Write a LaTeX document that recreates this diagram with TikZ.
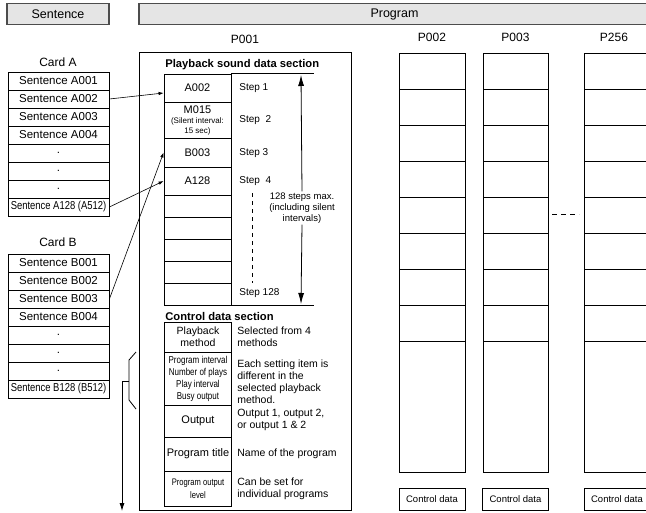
\documentclass[tikz,border=0pt]{standalone}
\usepackage{fontspec}
\usepackage{graphicx}
\setmainfont{Liberation Sans}
\usetikzlibrary{arrows.meta}
\newcommand{\narrow}[1]{\scalebox{0.8}[1]{#1}}
\tikzset{
  hdr/.style={draw=black!70, line width=1.4pt, fill=black!10, minimum height=21pt, inner sep=0pt, font=\fontsize{12.5}{14}\selectfont},
  lbl/.style={font=\fontsize{12}{14}\selectfont},
  cell/.style={draw, minimum width=101pt, minimum height=18pt, inner sep=0pt, font=\fontsize{11.5}{13}\selectfont},
  slot/.style={draw, minimum width=67pt, inner sep=0pt, align=center},
  steplbl/.style={anchor=west, inner sep=0pt, font=\fontsize{10}{12}\selectfont},
  note/.style={anchor=west, inner sep=0pt, align=left, font=\fontsize{10.5}{12}\selectfont},
  ctlbox/.style={draw, minimum width=66pt, minimum height=22pt, inner sep=0pt, font=\fontsize{9.5}{11}\selectfont},
  ptr/.style={-{Latex[length=5pt,width=3.5pt]}, line width=0.6pt},
  bigtip/.style={-{Latex[length=11pt,width=6pt]}},
}
\begin{document}
\begin{tikzpicture}[x=1pt, y=-1pt, line width=0.8pt, font=\fontsize{11}{13}\selectfont]
    \useasboundingbox (0,0) rectangle (646,512);

    % headers
    \node[hdr, minimum width=102pt] (senthdr) at (58,14) {Sentence};
    \node[hdr, minimum width=511pt] (proghdr) at (394.5,14) {Program};

    % card A
    \node[lbl] (cardA) at (58,62) {Card A};
    \node[cell] (a1) at (58.5,81) {Sentence A001};
    \node[cell] (a2) at (58.5,99) {Sentence A002};
    \node[cell] (a3) at (58.5,117) {Sentence A003};
    \node[cell] (a4) at (58.5,135) {Sentence A004};
    \node[cell] (a5) at (58.5,153) {.};
    \node[cell] (a6) at (58.5,171) {.};
    \node[cell] (a7) at (58.5,189) {.};
    \node[cell] (a8) at (58.5,207) {\scalebox{0.82}[1]{Sentence A128 (A512)}};

    % card B
    \node[lbl] (cardB) at (58,242) {Card B};
    \node[cell] (b1) at (58.5,263) {Sentence B001};
    \node[cell] (b2) at (58.5,281) {Sentence B002};
    \node[cell] (b3) at (58.5,299) {Sentence B003};
    \node[cell] (b4) at (58.5,317) {Sentence B004};
    \node[cell] (b5) at (58.5,335) {.};
    \node[cell] (b6) at (58.5,353) {.};
    \node[cell] (b7) at (58.5,371) {.};
    \node[cell] (b8) at (58.5,389) {\scalebox{0.82}[1]{Sentence B128 (B512)}};

    % program P001
    \node[lbl] (p1) at (245,39) {P001};
    \draw (139,52) rectangle (351,510);
    \node[anchor=west, inner sep=0pt, font=\fontsize{11.2}{13}\selectfont\bfseries] (sndhead) at (165,65) {Playback sound data section};

    \node[slot, minimum height=28pt] (s1) at (197.5,88) {A002};
    \node[slot, minimum height=36pt] (s2) at (197.5,120) {M015\\[-3pt]{\fontsize{8}{9}\selectfont(Silent interval:}\\[-3pt]{\fontsize{8}{9}\selectfont 15 sec)}};
    \node[slot, minimum height=29pt] (s3) at (197.5,152.5) {B003};
    \node[slot, minimum height=28pt] (s4) at (197.5,181) {A128};
    \node[slot, minimum height=22pt] (e1) at (197.5,206) {};
    \node[slot, minimum height=22pt] (e2) at (197.5,228) {};
    \node[slot, minimum height=22pt] (e3) at (197.5,250) {};
    \node[slot, minimum height=22pt] (e4) at (197.5,272) {};
    \node[slot, minimum height=22pt] (e5) at (197.5,294) {};

    \node[steplbl] (st1) at (239,88) {Step 1};
    \node[steplbl] (st2) at (239,120) {Step\ \ 2};
    \node[steplbl] (st3) at (239,153) {Step 3};
    \node[steplbl] (st4) at (239,181) {Step\ \ 4};
    \node[steplbl] (st128) at (239,293) {Step 128};

    \draw (s1.north east) -- ++(83,0);
    \draw (e5.south east) -- ++(83,0);
    \coordinate (stepstop) at (301,75);
    \coordinate (stepsbot) at (301,304);
    \node[align=center, inner sep=1pt, font=\fontsize{9.5}{11}\selectfont] (maxnote) at (302,208) {128 steps max.\\(including silent\\intervals)};
    \draw[bigtip] (maxnote.north) -- (stepstop);
    \draw[bigtip] (maxnote.south) -- (stepsbot);
    \coordinate (dtop) at (252,193);
    \coordinate (dbot) at (252,283);
    \draw[line width=0.6pt, dash pattern=on 4pt off 4pt] (dtop) -- (dbot);

    % control data
    \node[anchor=west, inner sep=0pt, font=\fontsize{11.2}{13}\selectfont\bfseries] (ctlhead) at (165,316) {Control data section};
    \node[slot, minimum height=30pt, font=\fontsize{10.5}{12}\selectfont] (c1) at (198,337) {Playback\\method};
    \node[slot, minimum height=53pt, font=\fontsize{10}{12}\selectfont] (c2) at (198,378.5) {\narrow{Program interval}\\\narrow{Number of plays}\\\narrow{Play interval}\\\narrow{Busy output}};
    \node[slot, minimum height=32pt] (c3) at (198,421) {Output};
    \node[slot, minimum height=34pt] (c4) at (198,454) {Program title};
    \node[slot, minimum height=35pt, font=\fontsize{9.5}{13}\selectfont] (c5) at (198,488.5) {\narrow{Program output}\\\narrow{level}};

    \node[note] (d1) at (237,337) {Selected from 4\\methods};
    \node[note] (d2) at (237,382) {Each setting item is\\different in the\\selected playback\\method.};
    \node[note] (d3) at (237,420) {Output 1, output 2,\\or output 1 \& 2};
    \node[note] (d4) at (237,454) {Name of the program};
    \node[note] (d5) at (237,489) {Can be set for\\individual programs};

    \draw (136,352) -- (129,360) -- (129,400) -- (136,409);
    \coordinate (brk) at (129,381);
    \coordinate (brkout) at (122,511);
    \draw[-{Latex[length=8pt,width=5pt]}] (brk) -| (brkout);

    % sentence to step
    \draw[ptr] (a2.east) -- ([yshift=-5pt]s1.west);
    \draw[ptr] (a8.east) -- (s4.west);
    \draw[ptr] (b3.east) -- (s3.west);

    % other programs
    \node[lbl] (p2) at (432,37) {P002};
    \draw (399,53) rectangle (465,472);
    \foreach \ry in {89,125,161,197,233,269,305,341} \draw (399,\ry) -- (465,\ry);
    \node[ctlbox] (p2ctl) at (432,499) {Control data};

    \node[lbl] (p3) at (515.5,37) {P003};
    \draw (483,53) rectangle (548,472);
    \foreach \ry in {89,125,161,197,233,269,305,341} \draw (483,\ry) -- (548,\ry);
    \node[ctlbox] (p3ctl) at (515.5,499) {Control data};

    \node[lbl] (p256) at (614,37) {P256};
    \draw (584,53) rectangle (650,472);
    \foreach \ry in {89,125,161,197,233,269,305,341} \draw (584,\ry) -- (650,\ry);
    \node[ctlbox] (p256ctl) at (617,499) {Control data};

    \draw[line width=0.7pt, dash pattern=on 5pt off 4pt] (552,214) -- (579,214);
\end{tikzpicture}
\end{document}
